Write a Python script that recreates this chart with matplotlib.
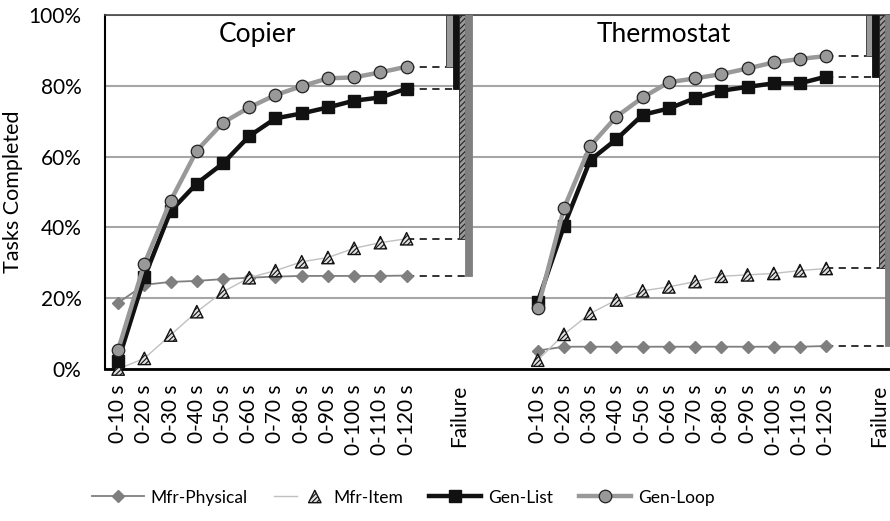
import numpy as np
import matplotlib.pyplot as plt
from matplotlib.legend_handler import HandlerTuple

plt.rcParams['font.family'] = ['Lato', 'DejaVu Sans']
plt.rcParams['hatch.linewidth'] = 0.8

times = ["0-10 s", "0-20 s", "0-30 s", "0-40 s", "0-50 s", "0-60 s",
         "0-70 s", "0-80 s", "0-90 s", "0-100 s", "0-110 s", "0-120 s"]
panels = ["Copier", "Thermostat"]

# percent of tasks completed within each time window
copier_physical = [18.7, 23.8, 24.6, 24.9, 25.4, 25.8, 26.1, 26.3, 26.3, 26.3, 26.3, 26.4]
copier_item = [0.0, 3.0, 9.6, 16.2, 21.8, 25.8, 27.8, 30.3, 31.5, 34.1, 35.7, 36.8]
copier_list = [2.3, 25.9, 44.6, 52.4, 58.1, 65.8, 70.8, 72.2, 73.9, 75.8, 76.7, 79.2]
copier_loop = [5.4, 29.7, 47.5, 61.7, 69.6, 73.9, 77.4, 79.9, 82.1, 82.4, 83.8, 85.4]

thermo_physical = [5.2, 6.3, 6.3, 6.3, 6.3, 6.3, 6.3, 6.3, 6.3, 6.3, 6.3, 6.5]
thermo_item = [2.5, 9.8, 15.7, 19.5, 22.1, 23.2, 24.7, 26.2, 26.6, 27.0, 27.8, 28.4]
thermo_list = [19.0, 40.4, 59.0, 64.9, 71.8, 73.6, 76.5, 78.6, 79.7, 80.7, 80.7, 82.6]
thermo_loop = [17.1, 45.4, 63.0, 71.3, 76.7, 81.0, 82.1, 83.3, 84.9, 86.6, 87.6, 88.4]

names = ["Mfr-Physical", "Mfr-Item", "Gen-List", "Gen-Loop"]
copier = [copier_physical, copier_item, copier_list, copier_loop]
thermo = [thermo_physical, thermo_item, thermo_list, thermo_loop]

fig = plt.figure(figsize=(8.9, 5.21), dpi=100)
ax = fig.add_axes([0.118, 0.2917, 0.884, 0.6795])

starts = [0, 16]           # slot of first time window per panel
n_slots = 30
bw = 0.24
offsets = {3: -0.36, 2: -0.12, 1: 0.12, 0: 0.36}

handles = {}
for p, data in enumerate([copier, thermo]):
    x = np.arange(12) + starts[p]
    xf = starts[p] + 13
    phys, item, glist, gloop = data

    # dashed connectors from last point to failure bar
    for k, s in enumerate(data):
        ax.plot([x[-1], xf + offsets[k] - bw / 2], [s[-1], s[-1]],
                ls=(0, (4, 3)), color='#222222', lw=1.3, zorder=2)

    # failure bars hanging from 100%
    ax.bar(xf + offsets[3], 100 - gloop[-1], bw, bottom=gloop[-1],
           color='#9a9a9a', edgecolor='#333333', lw=0.6, zorder=3)
    ax.bar(xf + offsets[2], 100 - glist[-1], bw, bottom=glist[-1],
           color='#111111', edgecolor='#111111', lw=0.6, zorder=3)
    ax.bar(xf + offsets[1], 100 - item[-1], bw, bottom=item[-1],
           color='#9a9a9a', edgecolor='#222222', hatch='//////', lw=0.6, zorder=3)
    ax.bar(xf + offsets[0], 100 - phys[-1], bw, bottom=phys[-1],
           color='#808080', edgecolor='#808080', lw=0.6, zorder=3)

    l1, = ax.plot(x, phys, color='#7f7f7f', lw=1.3, marker='D', ms=6,
                  mfc='#7f7f7f', mec='#7f7f7f', zorder=4)
    l2, = ax.plot(x, item, color='#c0c0c0', lw=1.0, zorder=4)
    sc = ax.scatter(x, item, marker='^', s=80, facecolor='#e0e0e0',
                    edgecolor='#111111', hatch='///////', lw=1.0, zorder=5,
                    clip_on=False)
    l3, = ax.plot(x, glist, color='#111111', lw=3.2, marker='s', ms=8,
                  mfc='#111111', mec='#111111', zorder=6)
    l4, = ax.plot(x, gloop, color='#999999', lw=3.2, marker='o', ms=9,
                  mfc='#999999', mec='#222222', mew=0.9, zorder=7)
    handles = {"Mfr-Physical": l1, "Mfr-Item": (l2, sc), "Gen-List": l3, "Gen-Loop": l4}

# panel titles
ax.text(5.3, 94.4, panels[0], ha='center', va='center', fontsize=19)
ax.text(20.8, 94.4, panels[1], ha='center', va='center', fontsize=19)

ticks = list(range(12)) + [13] + list(range(16, 28)) + [29]
labels = times + ["Failure"] + times + ["Failure"]
ax.set_xticks(ticks)
ax.set_xticklabels(labels, rotation=90, fontsize=15)
ax.set_xlim(-0.5, n_slots - 0.5)
ax.set_ylim(0, 100)
ax.set_yticks([0, 20, 40, 60, 80, 100])
ax.set_yticklabels(["0%", "20%", "40%", "60%", "80%", "100%"], fontsize=15)
ax.tick_params(axis='both', length=0)
ax.tick_params(axis='y', pad=17)
ax.tick_params(axis='x', pad=11)
ax.set_ylabel("Tasks Completed", fontsize=15.5, labelpad=4)

ax.yaxis.grid(True, color='#a6a6a6', lw=1.5, zorder=0)
ax.set_axisbelow(True)
ax.spines['right'].set_visible(False)
ax.spines['top'].set_color('#444444')
ax.spines['top'].set_linewidth(1.2)
ax.spines['left'].set_linewidth(1.5)
ax.spines['bottom'].set_linewidth(2.0)

fig.legend([handles[n] for n in names], names,
           handler_map={tuple: HandlerTuple(ndivide=None)},
           loc='center', bbox_to_anchor=(0.453, 0.045), ncol=4, frameon=False,
           fontsize=12.5, handlelength=3.0, columnspacing=1.5, handletextpad=0.4,
           scatteryoffsets=[0.5])

fig.savefig("out.png", dpi=100)
